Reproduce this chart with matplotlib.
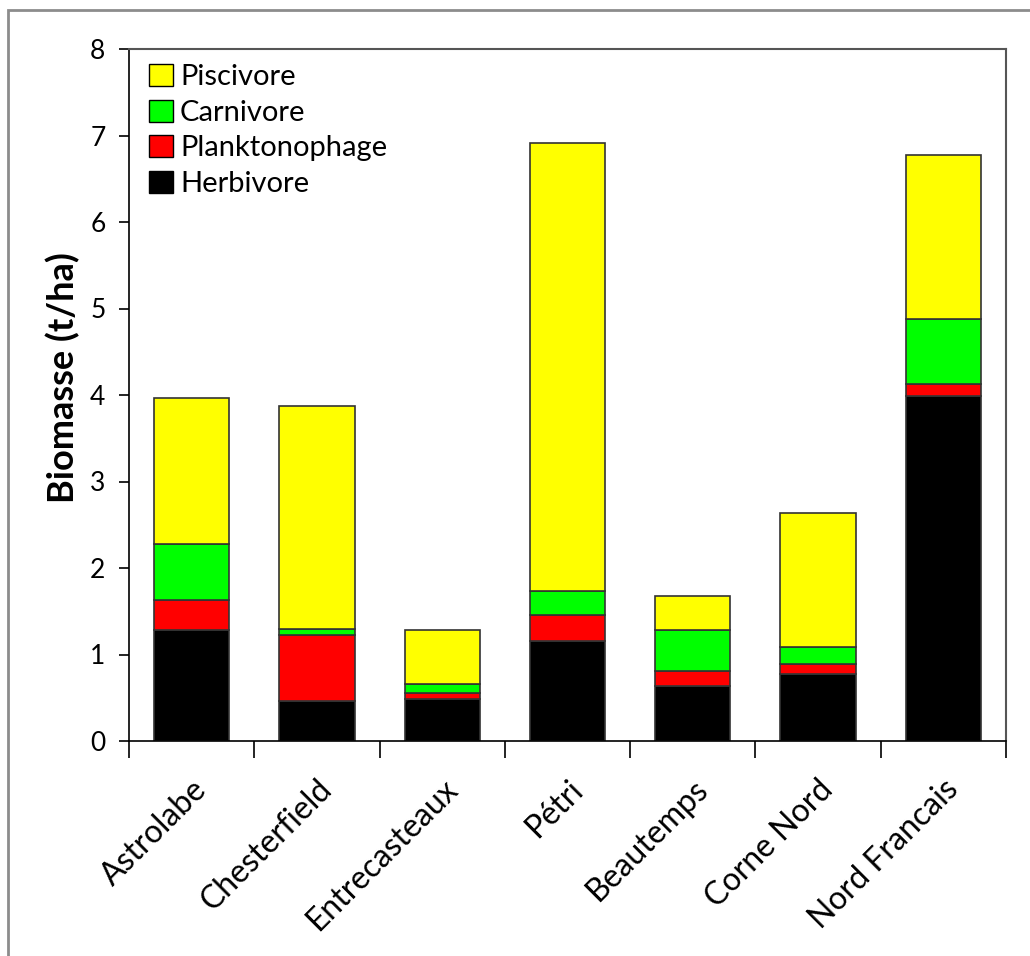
import matplotlib
matplotlib.use("Agg")
import matplotlib.pyplot as plt
from matplotlib.patches import Rectangle, Patch
import numpy as np

plt.rcParams['font.family'] = ['Lato', 'DejaVu Sans']

sites = ["Astrolabe", "Chesterfield", "Entrecasteaux", "Pétri", "Beautemps", "Corne Nord", "Nord Francais"]
herbivore = [1.28, 0.46, 0.49, 1.16, 0.64, 0.77, 3.99]
planktonophage = [0.35, 0.77, 0.06, 0.30, 0.17, 0.12, 0.14]
carnivore = [0.65, 0.06, 0.11, 0.27, 0.47, 0.20, 0.75]
piscivore = [1.69, 2.58, 0.62, 5.18, 0.40, 1.55, 1.89]

series = [
    ("Herbivore", herbivore, "#000000"),
    ("Planktonophage", planktonophage, "#ff0000"),
    ("Carnivore", carnivore, "#00ff00"),
    ("Piscivore", piscivore, "#ffff00"),
]

fig = plt.figure(figsize=(10.30, 9.56), dpi=100)
# outer frame
fig.patches.append(Rectangle((8/1030, -0.01), 1.05, 1 - 10/956 + 0.01, transform=fig.transFigure,
                             fill=False, edgecolor="#8c8c8c", linewidth=2, zorder=0))
ax = fig.add_axes([129/1030, 1 - 741/956, (1006 - 129)/1030, (741 - 49)/956])

x = np.arange(len(sites))
bottom = np.zeros(len(sites))
for name, vals, col in series:
    ax.bar(x, vals, 0.6, bottom=bottom, color=col, edgecolor="#333333", linewidth=1.2, label=name, zorder=2)
    bottom = bottom + np.array(vals)

ax.set_xlim(-0.5, len(sites) - 0.5)
ax.set_ylim(0, 8)
ax.set_yticks(range(0, 9))
ax.tick_params(axis='y', direction='out', length=7, width=1.2, labelsize=19, pad=10)
ax.set_xticks(x)
ax.set_xticklabels(sites, rotation=45, ha='right', rotation_mode='anchor', fontsize=23)
ax.tick_params(axis='x', which='major', length=0, pad=24)
ax.set_xticks(np.arange(-0.5, len(sites)), minor=True)
ax.tick_params(axis='x', which='minor', direction='out', length=12, width=1.2)

for s in ['left', 'bottom']:
    ax.spines[s].set_color('black')
    ax.spines[s].set_linewidth(1.2)
for s in ['top', 'right']:
    ax.spines[s].set_color('#555555')
    ax.spines[s].set_linewidth(1.5)

ax.set_ylabel("Biomasse (t/ha)", fontsize=26, fontweight='bold')
ax.yaxis.set_label_coords(-0.056, 0.525)

leg_items = [Patch(facecolor=c, edgecolor='black', label=n) for n, v, c in reversed(series)]
leg = ax.legend(handles=leg_items, loc='upper left', frameon=False, fontsize=21,
                handlelength=0.8, handleheight=0.8, handletextpad=0.25, labelspacing=0.32,
                borderaxespad=0.3, bbox_to_anchor=(0.0, 1.008))

fig.savefig("out.png", dpi=100)
